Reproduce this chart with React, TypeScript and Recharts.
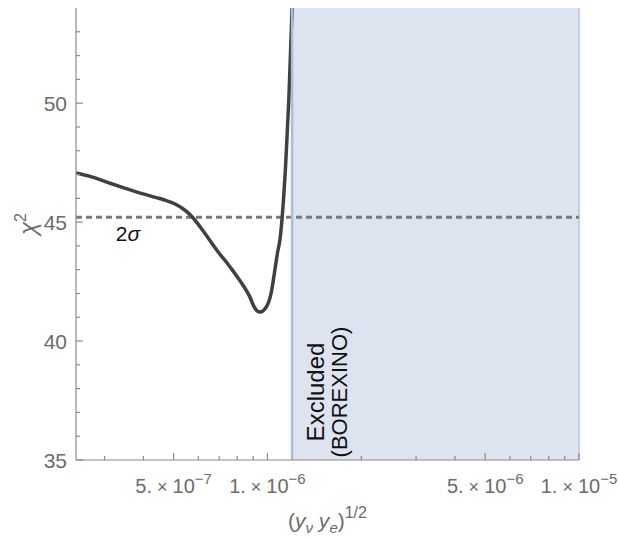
import {
  LineChart,
  Line,
  XAxis,
  YAxis,
  ReferenceArea,
  ReferenceLine,
  Label,
} from 'recharts';

// chi^2 profile vs (y_nu y_e)^(1/2)
const coupling = [
  2.43e-7, 2.7e-7, 3.1e-7, 3.5e-7, 3.96e-7, 4.4e-7, 4.74e-7, 5.05e-7, 5.33e-7,
  5.7e-7, 6.18e-7, 6.6e-7, 7.01e-7, 7.4e-7, 7.72e-7, 8.1e-7, 8.44e-7, 8.75e-7,
  9.08e-7, 9.3e-7, 9.47e-7, 9.7e-7, 9.9e-7, 1.01e-6, 1.028e-6, 1.053e-6,
  1.077e-6, 1.098e-6, 1.115e-6, 1.143e-6, 1.171e-6, 1.2e-6, 1.21e-6,
];
const chi2 = [
  47.07, 46.92, 46.65, 46.42, 46.2, 46.03, 45.9, 45.76, 45.58,
  45.26, 44.68, 44.15, 43.68, 43.3, 42.98, 42.6, 42.25, 41.9,
  41.42, 41.25, 41.22, 41.28, 41.42, 41.65, 42.02, 42.86,
  43.7, 44.3, 45.2, 47.3, 50.1, 54.0, 55.2,
];

const twoSigma = 45.2;
const excludedFrom = 1.2e-6;
const excludedTo = 1e-5;

const xDomain = [2.43e-7, 1e-5];
const yDomain = [35, 54];

const xTicks = [
  3e-7, 4e-7, 5e-7, 6e-7, 7e-7, 8e-7, 9e-7, 1e-6, 2e-6, 3e-6, 4e-6, 5e-6,
  6e-6, 7e-6, 8e-6, 9e-6, 1e-5,
];
const xLabelTicks = [5e-7, 1e-6, 5e-6, 1e-5];
const xLabelMantissa = ['5.', '1.', '5.', '1.'];
const xLabelExponent = ['−7', '−6', '−6', '−5'];

const yTicks = [35, 36, 37, 38, 39, 40, 41, 42, 43, 44, 45, 46, 47, 48, 49, 50, 51, 52, 53];
const yLabelTicks = [35, 40, 45, 50];

const data = coupling.map((x, i) => ({ x, chi2: chi2[i] }));

const FRAME = '#8a8a8a';
const TICK_TEXT = '#6b6b6b';
const FONT = '"Liberation Sans", Arial, sans-serif';

const labelIndex = (v: number) => xLabelTicks.findIndex((t) => Math.abs(t - v) / t < 1e-6);

const BottomTick = (props: any) => {
  const { x, y, payload } = props;
  const i = labelIndex(payload.value);
  const len = i >= 0 ? 7 : 4;
  return (
    <g>
      <line x1={x} x2={x} y1={y} y2={y - len} stroke={FRAME} strokeWidth={1.2} />
      {i >= 0 && (
        <text x={x} y={y + 33} textAnchor="middle" fill={TICK_TEXT} fontSize={20} fontFamily={FONT}>
          <tspan>{xLabelMantissa[i]}</tspan>
          <tspan fontSize={18}>{' × '}</tspan>
          <tspan>10</tspan>
          <tspan dy={-9} fontSize={15}>{xLabelExponent[i]}</tspan>
        </text>
      )}
    </g>
  );
};

const TopTick = (props: any) => {
  const { x, y, payload } = props;
  const len = labelIndex(payload.value) >= 0 ? 7 : 4;
  return <line x1={x} x2={x} y1={y} y2={y + len} stroke={FRAME} strokeWidth={1.2} />;
};

const LeftTick = (props: any) => {
  const { x, y, payload } = props;
  const major = yLabelTicks.includes(payload.value);
  return (
    <g>
      <line x1={x} x2={x + (major ? 7 : 4)} y1={y} y2={y} stroke={FRAME} strokeWidth={1.2} />
      {major && (
        <text x={x - 9} y={y + 8} textAnchor="end" fill={TICK_TEXT} fontSize={21} fontFamily={FONT}>
          {payload.value}
        </text>
      )}
    </g>
  );
};

const RightTick = (props: any) => {
  const { x, y, payload } = props;
  const major = yLabelTicks.includes(payload.value);
  return <line x1={x} x2={x - (major ? 7 : 4)} y1={y} y2={y} stroke={FRAME} strokeWidth={1.2} />;
};

const XTitle = (props: any) => {
  const { viewBox } = props;
  const cx = viewBox.x + viewBox.width / 2;
  return (
    <text x={cx} y={viewBox.y + 68} textAnchor="middle" fill={TICK_TEXT} fontSize={21} fontFamily={FONT}>
      <tspan>(</tspan>
      <tspan fontStyle="italic">y</tspan>
      <tspan dy={5} fontSize={15} fontStyle="italic">ν</tspan>
      <tspan dy={-5} fontStyle="italic">{' y'}</tspan>
      <tspan dy={5} fontSize={15} fontStyle="italic">e</tspan>
      <tspan dy={-5}>)</tspan>
      <tspan dy={-10} fontSize={16}>1/2</tspan>
    </text>
  );
};

const YTitle = () => (
  <text
    x={36}
    y={224}
    transform="rotate(-90, 36, 224)"
    textAnchor="middle"
    fill={TICK_TEXT}
    fontSize={24}
    fontFamily={FONT}
  >
    <tspan fontStyle="italic">χ</tspan>
    <tspan dy={-10} fontSize={16}>2</tspan>
  </text>
);

const SigmaLabel = (props: any) => {
  const { viewBox } = props;
  return (
    <text x={viewBox.x + 52} y={viewBox.y + 24} textAnchor="middle" fill="#111" fontSize={21} fontFamily={FONT}>
      <tspan>2</tspan>
      <tspan fontStyle="italic">σ</tspan>
    </text>
  );
};

const ExcludedLabel = (props: any) => {
  const { viewBox } = props;
  const cy = 392;
  const x1 = viewBox.x + 32;
  const x2 = viewBox.x + 55;
  return (
    <g fill="#111" fontSize={22} fontFamily={FONT}>
      <text x={x1} y={cy} transform={`rotate(-90, ${x1}, ${cy})`} textAnchor="middle" fontSize={24}>
        Excluded
      </text>
      <text x={x2} y={cy} transform={`rotate(-90, ${x2}, ${cy})`} textAnchor="middle">
        (BOREXINO)
      </text>
    </g>
  );
};

export default function App() {
  return (
    <div style={{ position: 'absolute', left: 0, top: 0, width: 619, height: 539, background: '#fff' }}>
      <LineChart width={619} height={539} data={data} margin={{ top: 8, right: 40, bottom: 0, left: 0 }}>
        <XAxis
          dataKey="x"
          type="number"
          scale="log"
          domain={xDomain}
          allowDataOverflow
          ticks={xTicks}
          interval={0}
          height={79}
          tickSize={0}
          tickMargin={0}
          tickLine={false}
          tick={<BottomTick />}
          axisLine={{ stroke: FRAME, strokeWidth: 1.2 }}
        >
          <Label content={<XTitle />} />
        </XAxis>
        <XAxis
          xAxisId="top"
          orientation="top"
          dataKey="x"
          type="number"
          scale="log"
          domain={xDomain}
          allowDataOverflow
          ticks={xTicks}
          interval={0}
          height={0}
          tickSize={0}
          tickMargin={0}
          tickLine={false}
          tick={<TopTick />}
          axisLine={{ stroke: FRAME, strokeWidth: 1.2 }}
        />
        <YAxis
          type="number"
          domain={yDomain}
          allowDataOverflow
          ticks={yTicks}
          interval={0}
          width={76}
          tickSize={0}
          tickMargin={0}
          tickLine={false}
          tick={<LeftTick />}
          axisLine={{ stroke: FRAME, strokeWidth: 1.2 }}
        >
          <Label content={<YTitle />} />
        </YAxis>
        <YAxis
          yAxisId="right"
          orientation="right"
          type="number"
          domain={yDomain}
          allowDataOverflow
          ticks={yTicks}
          interval={0}
          width={0}
          tickSize={0}
          tickMargin={0}
          tickLine={false}
          tick={<RightTick />}
          axisLine={{ stroke: FRAME, strokeWidth: 1.2 }}
        />
        <ReferenceArea
          x1={excludedFrom}
          x2={excludedTo}
          y1={yDomain[0]}
          y2={yDomain[1]}
          fill="#dde3ef"
          fillOpacity={1}
          stroke="none"
          label={<ExcludedLabel />}
        />
        <ReferenceLine x={excludedTo} stroke="#c3cfe3" strokeWidth={2} />
        <ReferenceLine
          y={twoSigma}
          stroke="#7a7a7a"
          strokeWidth={3}
          strokeDasharray="6 4"
          label={<SigmaLabel />}
        />
        <Line
          type="monotone"
          dataKey="chi2"
          stroke="#404040"
          strokeWidth={3.5}
          dot={false}
          isAnimationActive={false}
        />
        <ReferenceLine x={excludedFrom} stroke="#a9bddb" strokeWidth={2.5} />
      </LineChart>
    </div>
  );
}
